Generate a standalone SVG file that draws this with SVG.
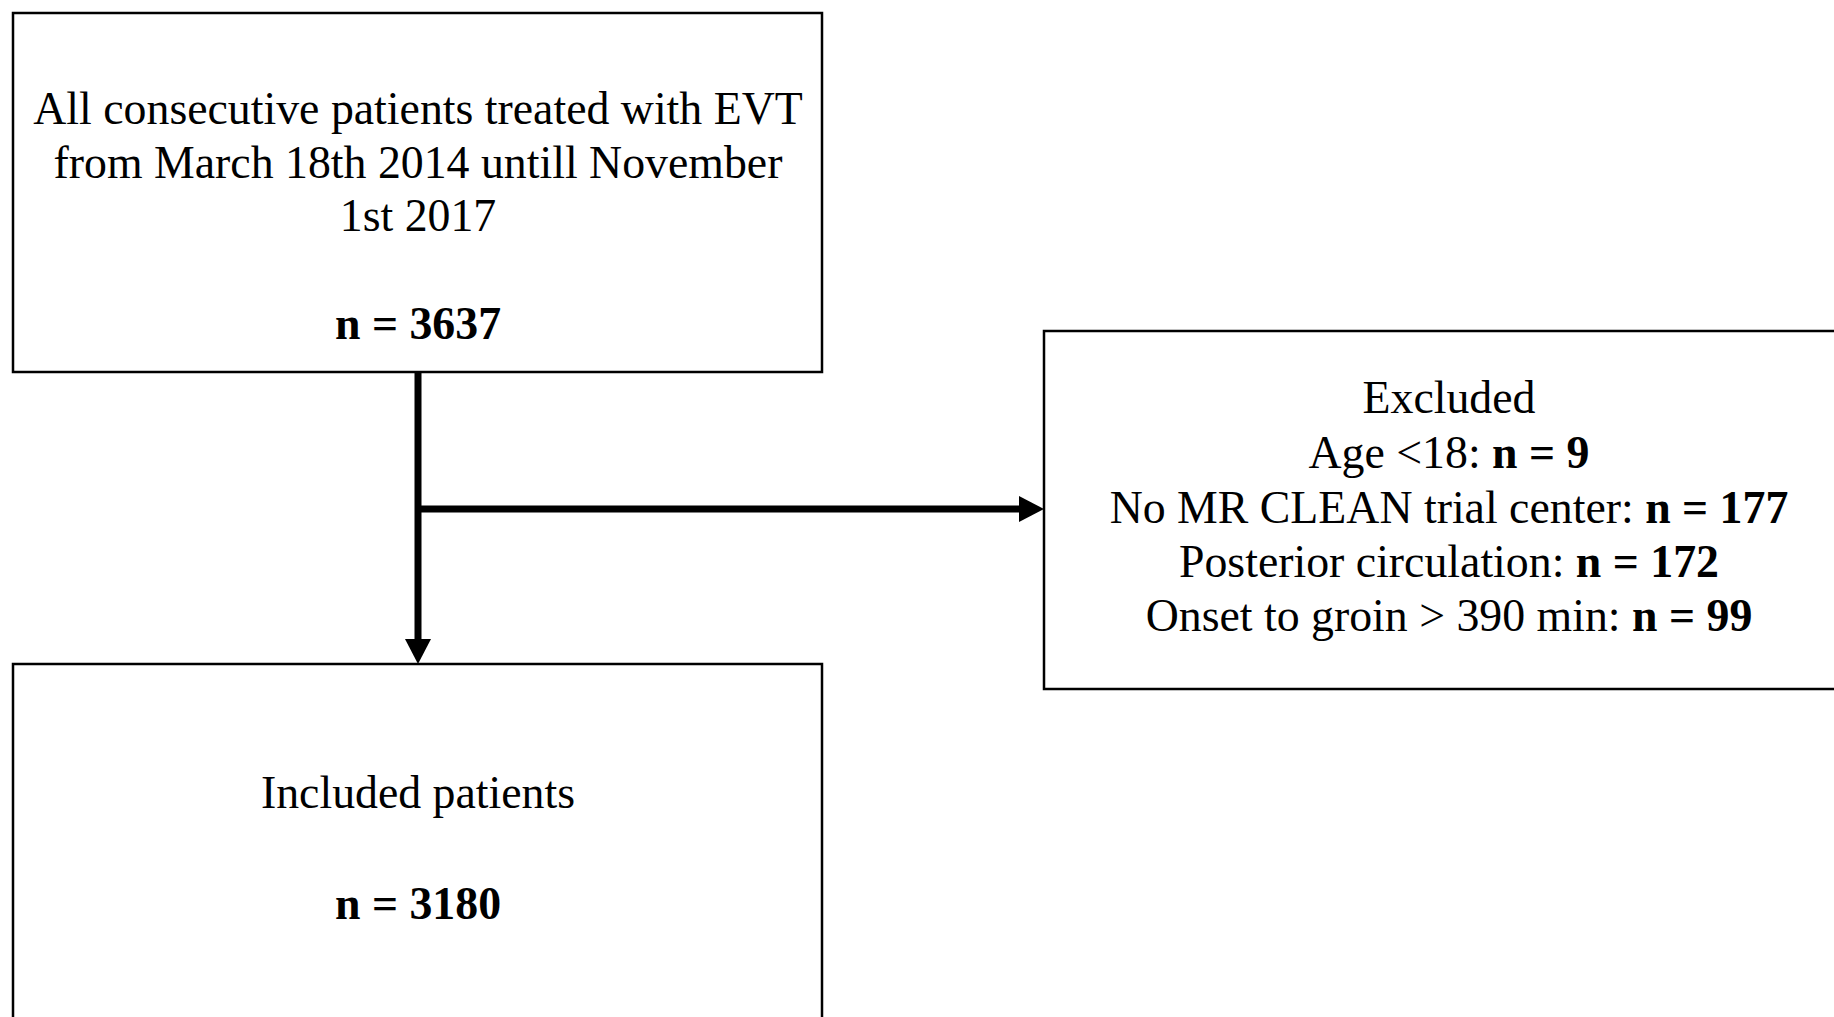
<svg xmlns="http://www.w3.org/2000/svg" width="1834" height="1017" viewBox="0 0 1834 1017">
  <style>
    .box { fill: #ffffff; stroke: #000000; stroke-width: 2.5; }
    .t { font-family: "Liberation Serif", "Times New Roman", serif; font-size: 45.8px; fill: #000000; text-anchor: middle; }
    .b { font-weight: bold; }
    .conn { stroke: #000000; stroke-width: 7; fill: none; }
  </style>
  <defs>
    <marker id="arrow" markerUnits="userSpaceOnUse" markerWidth="25" markerHeight="26" refX="5" refY="13" orient="auto">
      <path d="M0,0 L25,13 L0,26 Z" fill="#000000"/>
    </marker>
  </defs>
  <rect width="1834" height="1017" fill="#ffffff"/>

  <g id="node-all">
    <rect class="box" x="13" y="13" width="809" height="359"/>
    <text class="t" x="418" y="124">All consecutive patients treated with EVT</text>
    <text class="t" x="418" y="178">from March 18th 2014 untill November</text>
    <text class="t" x="418" y="231">1st 2017</text>
    <text class="t b" x="418" y="339">n = 3637</text>
  </g>

  <g id="node-excluded">
    <rect class="box" x="1044" y="331" width="810" height="358"/>
    <text class="t" x="1449" y="413">Excluded</text>
    <text class="t" x="1449" y="468">Age &lt;18: <tspan class="b">n = 9</tspan></text>
    <text class="t" x="1449" y="523">No MR CLEAN trial center: <tspan class="b">n = 177</tspan></text>
    <text class="t" x="1449" y="577">Posterior circulation: <tspan class="b">n = 172</tspan></text>
    <text class="t" x="1449" y="631">Onset to groin &gt; 390 min: <tspan class="b">n = 99</tspan></text>
  </g>

  <g id="node-included">
    <rect class="box" x="13" y="664" width="809" height="380"/>
    <text class="t" x="418" y="808">Included patients</text>
    <text class="t b" x="418" y="919">n = 3180</text>
  </g>

  <g id="connectors">
    <line class="conn" x1="418" y1="372" x2="418" y2="644" marker-end="url(#arrow)"/>
    <line class="conn" x1="418" y1="509" x2="1024" y2="509" marker-end="url(#arrow)"/>
  </g>
</svg>
